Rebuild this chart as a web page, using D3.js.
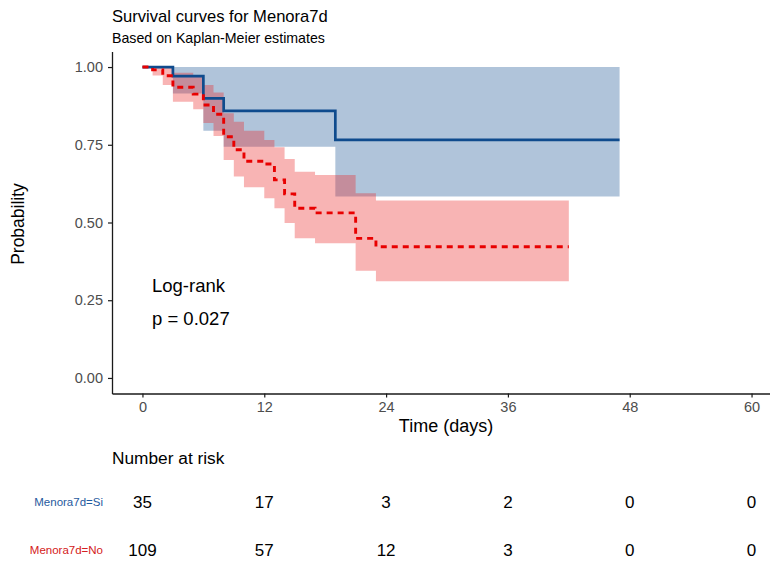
<!DOCTYPE html>
<html>
<head>
<meta charset="utf-8">
<script src="https://cdn.jsdelivr.net/npm/d3@7"></script>
<style>
  html, body { margin: 0; padding: 0; background: #fff; }
  svg { display: block; font-family: "Liberation Sans", Arial, sans-serif; }
</style>
</head>
<body>
<svg id="chart" width="770" height="562"></svg>
<script>
// Kaplan-Meier estimates by group (time in days, survival with 95% CI)
const timeTicks = [0, 12, 24, 36, 48, 60];
const probTicks = [0, 0.25, 0.5, 0.75, 1];
const probLabels = ["0.00", "0.25", "0.50", "0.75", "1.00"];

const siTimes = [0, 3, 6, 8, 19];
const siSurv  = [1, 0.971, 0.899, 0.859, 0.766];
const siLower = [1, 0.915, 0.795, 0.744, 0.584];
const siUpper = [1, 1, 1, 1, 1];
const siEnd = 47;

const noTimes = [0, 1, 2, 3, 5, 6, 7, 8, 9, 10, 12, 13, 14, 15, 17, 21, 23];
const noSurv  = [1, 0.991, 0.972, 0.935, 0.913, 0.878, 0.848, 0.776, 0.734, 0.697, 0.688, 0.637, 0.592, 0.546, 0.531, 0.449, 0.422];
const noLower = [1, 0.973, 0.942, 0.888, 0.864, 0.820, 0.778, 0.701, 0.648, 0.613, 0.578, 0.546, 0.498, 0.449, 0.433, 0.345, 0.311];
const noUpper = [1, 1, 1, 0.982, 0.969, 0.942, 0.918, 0.851, 0.824, 0.795, 0.765, 0.742, 0.704, 0.663, 0.653, 0.594, 0.571];
const noEnd = 42;

const riskSi = [35, 17, 3, 2, 0, 0];
const riskNo = [109, 57, 12, 3, 0, 0];

const groupNames = ["Menora7d=Si", "Menora7d=No"];

// Build step series (last interval carried to the end of follow-up)
function series(times, surv, lower, upper, end) {
  const pts = times.map((t, i) => ({ t, s: surv[i], lo: lower[i], hi: upper[i] }));
  const last = pts[pts.length - 1];
  pts.push({ t: end, s: last.s, lo: last.lo, hi: last.hi });
  return pts;
}
const si = series(siTimes, siSurv, siLower, siUpper, siEnd);
const no = series(noTimes, noSurv, noLower, noUpper, noEnd);

const svg = d3.select("#chart");
const x = d3.scaleLinear().domain([-3, 63]).range([112, 782]);
const y = d3.scaleLinear().domain([-0.05, 1.05]).range([393.5, 51.5]);

const blueLine = "#0f4b8d", redLine = "#e80000";
const blueFill = "rgb(29,86,149)", redFill = "rgb(235,41,41)";

const area = d3.area().curve(d3.curveStepAfter)
  .x(d => x(d.t)).y0(d => y(d.lo)).y1(d => y(d.hi));
const line = d3.line().curve(d3.curveStepAfter)
  .x(d => x(d.t)).y(d => y(d.s));

const plot = svg.append("g");
plot.append("path").datum(si).attr("d", area).attr("fill", blueFill).attr("fill-opacity", 0.35);
plot.append("path").datum(no).attr("d", area).attr("fill", redFill).attr("fill-opacity", 0.35);
plot.append("path").datum(si).attr("d", line).attr("fill", "none")
  .attr("stroke", blueLine).attr("stroke-width", 2.7);
plot.append("path").datum(no).attr("d", line).attr("fill", "none")
  .attr("stroke", redLine).attr("stroke-width", 2.9).attr("stroke-dasharray", "6,5");

// Axes
const xAxis = svg.append("g").attr("transform", "translate(0,393.5)")
  .call(d3.axisBottom(x).tickValues(timeTicks).tickSize(4).tickSizeOuter(0).tickPadding(4));
const yAxis = svg.append("g").attr("transform", "translate(112,0)")
  .call(d3.axisLeft(y).tickValues(probTicks).tickFormat((d, i) => probLabels[i]).tickSize(4).tickSizeOuter(0).tickPadding(5));
[xAxis, yAxis].forEach(a => {
  a.select(".domain").attr("stroke", "#1a1a1a").attr("stroke-width", 1.3);
  a.selectAll(".tick line").attr("stroke", "#1a1a1a").attr("stroke-width", 1.2);
  a.selectAll(".tick text").attr("fill", "#4d4d4d").attr("font-size", 14.5)
    .attr("font-family", "Liberation Sans, Arial, sans-serif");
});

// Titles
svg.append("text").attr("x", 112).attr("y", 21.5).attr("font-size", 16.6).attr("fill", "#000")
  .text("Survival curves for Menora7d");
svg.append("text").attr("x", 112).attr("y", 42.5).attr("font-size", 14.2).attr("fill", "#000")
  .text("Based on Kaplan-Meier estimates");
svg.append("text").attr("transform", "translate(24,224) rotate(-90)").attr("text-anchor", "middle")
  .attr("font-size", 17.5).attr("fill", "#000").text("Probability");
svg.append("text").attr("x", 446).attr("y", 432).attr("text-anchor", "middle")
  .attr("font-size", 18).attr("fill", "#000").text("Time (days)");

// Log-rank annotation
svg.append("text").attr("x", 152).attr("y", 291.5).attr("font-size", 18.5).attr("fill", "#000").text("Log-rank");
svg.append("text").attr("x", 152).attr("y", 324.5).attr("font-size", 18.5).attr("fill", "#000").text("p = 0.027");

// Number at risk table
svg.append("text").attr("x", 112).attr("y", 463.5).attr("font-size", 17.3).attr("fill", "#000").text("Number at risk");
const rows = [
  { name: groupNames[0], vals: riskSi, color: "#1f5a9e", yy: 508 },
  { name: groupNames[1], vals: riskNo, color: "#d42020", yy: 556 }
];
rows.forEach(r => {
  svg.append("text").attr("x", 103).attr("y", r.yy - 2).attr("text-anchor", "end")
    .attr("font-size", 11.5).attr("fill", r.color).text(r.name);
  svg.append("g").selectAll("text").data(r.vals).join("text")
    .attr("x", (d, i) => x(timeTicks[i])).attr("y", r.yy)
    .attr("text-anchor", "middle").attr("font-size", 17).attr("fill", "#000")
    .text(d => d);
});
</script>
</body>
</html>
